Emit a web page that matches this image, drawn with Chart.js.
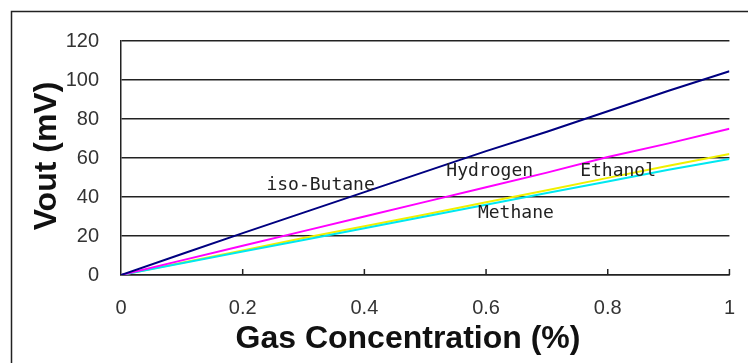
<!DOCTYPE html>
<html>
<head>
<meta charset="utf-8">
<script src="https://cdn.jsdelivr.net/npm/chart.js@4/dist/chart.umd.min.js"></script>
<style>
html,body{margin:0;padding:0;background:#fff;}
canvas{display:block;}
</style>
</head>
<body>
<canvas id="c" width="748" height="363"></canvas>
<script>
const concentrations = [0, 0.1, 0.2, 0.3, 0.4, 0.5, 0.6, 0.7, 0.8, 0.9, 1.0];
const isoButane = [0, 10.8, 21.5, 32, 42.5, 53, 63.5, 73.5, 84, 94.5, 104.5];
const hydrogen  = [0, 7.5, 15, 22.5, 30, 37.5, 45, 52.5, 60.5, 67.5, 75];
const ethanol   = [0, 6.3, 12.6, 19, 25, 31, 37.3, 43.5, 49.8, 56, 62];
const methane   = [0, 6, 12, 18, 24, 30, 36, 42, 48, 54, 59.5];
const xTicks = [0, 0.2, 0.4, 0.6, 0.8, 1];
const yTicks = [0, 20, 40, 60, 80, 100, 120];
const seriesLabels = [
  {text: 'iso-Butane', x: 0.328, y: 46.2},
  {text: 'Hydrogen', x: 0.606, y: 53.3},
  {text: 'Ethanol', x: 0.817, y: 53.3},
  {text: 'Methane', x: 0.649, y: 31.8}
];
const xTitle = 'Gas Concentration (%)';
const yTitle = 'Vout (mV)';

const pts = arr => arr.map((v, i) => ({x: concentrations[i], y: v}));

const decor = {
  id: 'decor',
  beforeDraw(chart) {
    const ctx = chart.ctx;
    ctx.save();
    ctx.fillStyle = '#fff';
    ctx.fillRect(0, 0, chart.width, chart.height);
    ctx.strokeStyle = '#222';
    ctx.lineWidth = 1.5;
    ctx.strokeRect(11.5, 11.5, 900, 500);
    ctx.restore();
  },
  afterDraw(chart) {
    const ctx = chart.ctx;
    const xs = chart.scales.x, ys = chart.scales.y;
    ctx.save();
    ctx.strokeStyle = '#222';
    ctx.lineWidth = 1.5;
    const y0 = ys.getPixelForValue(0);
    xTicks.forEach(t => {
      if (t === 0) return;
      const px = xs.getPixelForValue(t);
      ctx.beginPath();
      ctx.moveTo(px, y0);
      ctx.lineTo(px, y0 - 6);
      ctx.stroke();
    });
    ctx.fillStyle = '#222';
    ctx.font = '18px "DejaVu Sans Mono"';
    ctx.textAlign = 'center';
    ctx.textBaseline = 'middle';
    seriesLabels.forEach(l => {
      ctx.fillText(l.text, xs.getPixelForValue(l.x), ys.getPixelForValue(l.y));
    });
    ctx.fillStyle = '#111';
    ctx.font = 'bold 32px "Liberation Sans"';
    ctx.fillText(xTitle, 408, 339);
    ctx.translate(47, 156);
    ctx.rotate(-Math.PI / 2);
    ctx.fillText(yTitle, 0, 0);
    ctx.restore();
  }
};

new Chart(document.getElementById('c'), {
  type: 'line',
  data: {
    datasets: [
      {label: 'iso-Butane', data: pts(isoButane), borderColor: '#000080', borderWidth: 2},
      {label: 'Hydrogen', data: pts(hydrogen), borderColor: '#ff00ff', borderWidth: 2},
      {label: 'Methane', data: pts(methane), borderColor: '#00e8f0', borderWidth: 2},
      {label: 'Ethanol', data: pts(ethanol), borderColor: '#f0f000', borderWidth: 2}
    ]
  },
  options: {
    responsive: false,
    animation: false,
    events: [],
    layout: {padding: {top: 41, right: 11, left: 0, bottom: 0}},
    elements: {point: {radius: 0}, line: {tension: 0}},
    plugins: {legend: {display: false}, tooltip: {enabled: false}},
    scales: {
      x: {
        type: 'linear', min: 0, max: 1,
        afterBuildTicks: s => { s.ticks = xTicks.map(v => ({value: v})); },
        afterFit: s => { s.height = 88; },
        grid: {display: false},
        border: {display: true, color: '#222', width: 1.5},
        ticks: {color: '#333', padding: 13, font: {family: 'Liberation Sans', size: 20},
                maxRotation: 0, autoSkip: false, callback: v => String(v)}
      },
      y: {
        min: 0, max: 120,
        afterBuildTicks: s => { s.ticks = yTicks.map(v => ({value: v})); },
        afterFit: s => { s.width = 121; },
        grid: {color: '#222', lineWidth: 1.5, drawTicks: false},
        border: {display: true, color: '#222', width: 1.5},
        ticks: {color: '#333', padding: 22, font: {family: 'Liberation Sans', size: 20}}
      }
    }
  },
  plugins: [decor]
});
</script>
</body>
</html>
